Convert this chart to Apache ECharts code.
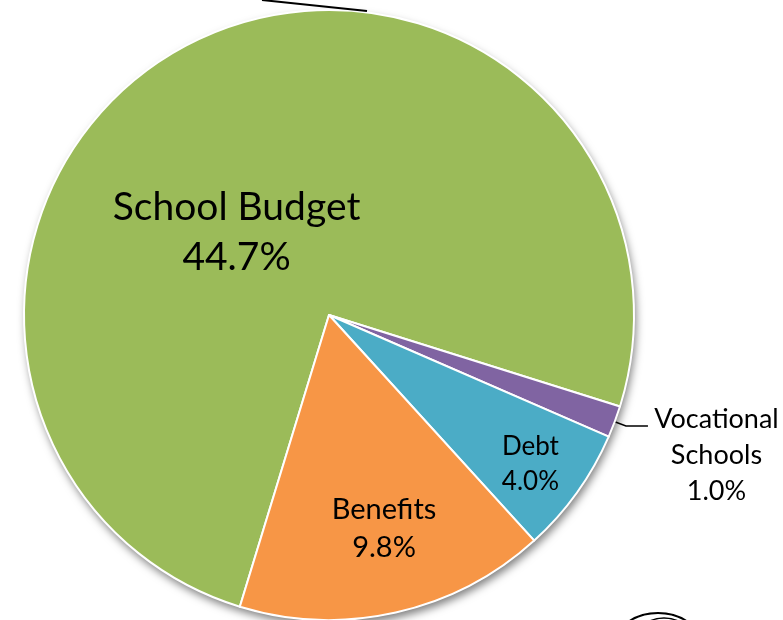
<!DOCTYPE html>
<html>
<head>
<meta charset="utf-8">
<style>
  html, body { margin: 0; padding: 0; background: #ffffff; }
  #chart { width: 783px; height: 620px; }
</style>
<script src="https://cdn.jsdelivr.net/npm/echarts@6/dist/echarts.min.js"></script>
</head>
<body>
<div id="chart"></div>
<script>
// Budget shares (percent of the total budget)
const categories = ['School Budget', 'Vocational Schools', 'Debt', 'Benefits'];
const labelNames = ['School Budget', 'Vocational\nSchools', 'Debt', 'Benefits'];
const shares = [44.7, 1.0, 4.0, 9.8];
const colors = ['#9BBB59', '#8064A2', '#4BACC6', '#F79646'];

const FONT = 'Lato, "Noto Sans", sans-serif';
const CENTER = [329, 315];
const RADIUS = 305;

// per-slice label styling
const labelStyles = [
  { fontSize: 39, lineHeight: 50, offset: [-20, 55] },
  null,
  { fontSize: 26, lineHeight: 35, offset: [75, 59] },
  { fontSize: 29, lineHeight: 38, offset: [21, 62] }
];

const total = shares.reduce((a, b) => a + b, 0);

const data = categories.map((name, i) => {
  const item = {
    name: name,
    value: shares[i],
    itemStyle: { color: colors[i] }
  };
  const ls = labelStyles[i];
  if (ls) {
    item.label = {
      position: 'inside',
      fontSize: ls.fontSize,
      lineHeight: ls.lineHeight,
      offset: ls.offset,
      formatter: (p) => labelNames[p.dataIndex] + '\n' + p.value.toFixed(1) + '%'
    };
  } else {
    item.label = {
      position: 'outside',
      padding: [58, 0, 0, 0],
      width: 127,
      formatter: (p) => labelNames[p.dataIndex].split('\n')
        .concat([p.value.toFixed(1) + '%'])
        .map((s) => '{c|' + s + '}').join('\n'),
      rich: {
        c: { align: 'center', fontSize: 27, lineHeight: 36, color: '#000', fontFamily: FONT }
      }
    };
    item.labelLine = {
      show: true,
      length: 12,
      length2: 22,
      lineStyle: { color: '#000', width: 1.5 }
    };
  }
  return item;
});

const chart = echarts.init(document.getElementById('chart'), null, { renderer: 'canvas' });

chart.setOption({
  backgroundColor: '#ffffff',
  animation: false,
  series: [
    {
      // shadow disc behind the slices
      type: 'pie',
      silent: true,
      z: 1,
      center: CENTER,
      radius: RADIUS,
      label: { show: false },
      labelLine: { show: false },
      data: [{ value: total, itemStyle: { color: '#ffffff' } }],
      itemStyle: {
        shadowBlur: 9,
        shadowOffsetX: 2,
        shadowOffsetY: 5,
        shadowColor: 'rgba(0,0,0,0.5)'
      }
    },
    {
      type: 'pie',
      z: 2,
      center: CENTER,
      radius: RADIUS,
      startAngle: 253,
      clockwise: true,
      avoidLabelOverlap: false,
      itemStyle: { borderColor: '#ffffff', borderWidth: 2 },
      label: {
        color: '#000000',
        fontFamily: FONT,
        align: 'center'
      },
      emphasis: { disabled: true },
      data: data
    }
  ],
  graphic: [
    {
      // leader line from a label above the visible area
      type: 'line',
      z: 10,
      shape: { x1: 262, y1: 0, x2: 367, y2: 11 },
      style: { stroke: '#000', lineWidth: 2 }
    },
    {
      // hand-drawn oval marks at the lower right
      type: 'ellipse',
      z: 10,
      shape: { cx: 658, cy: 640, rx: 40, ry: 27 },
      style: { stroke: '#000', lineWidth: 2, fill: null }
    },
    {
      type: 'ellipse',
      z: 10,
      shape: { cx: 664, cy: 644, rx: 30, ry: 26 },
      style: { stroke: '#000', lineWidth: 1.5, fill: null }
    }
  ]
});
</script>
</body>
</html>
